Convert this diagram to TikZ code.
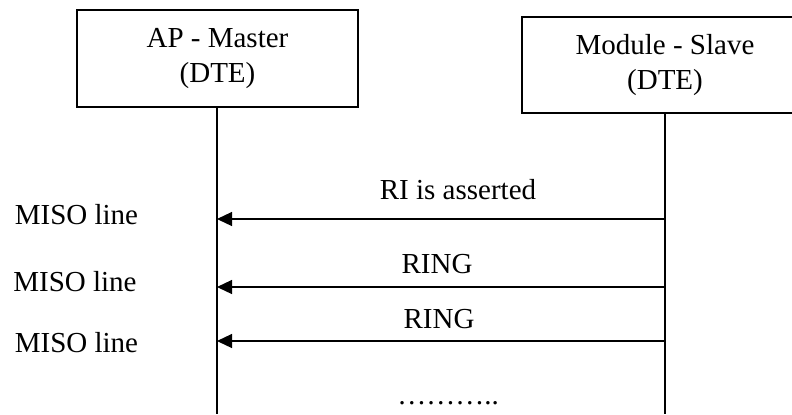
\documentclass[tikz,border=0pt]{standalone}
\usepackage{fontspec}
\setmainfont{Liberation Serif}
\usetikzlibrary{arrows.meta, positioning}

\begin{document}
\begin{tikzpicture}[x=0.5pt, y=-0.5pt,
  lifebox/.style={draw, line width=0.6pt, minimum width=140.5pt, minimum height=48.5pt, align=center, font=\fontsize{14.5}{17.25}\selectfont, inner sep=0pt},
  lifeline/.style={line width=0.6pt},
  msg/.style={line width=0.6pt, -{Triangle[length=7.5pt, width=7pt]}},
  lbl/.style={font=\fontsize{14.5}{17.25}\selectfont, anchor=base, inner sep=0pt}
]
  \clip (0,0) rectangle (792,414);

  % Participants
  \node[lifebox] (master) at (217.5,58.5) {AP - Master\\(DTE)};
  \node[lifebox, minimum width=143pt, minimum height=48pt] (slave) at (665,65) {Module - Slave\\(DTE)};

  % Lifelines
  \coordinate (mEnd) at (217,414);
  \coordinate (sEnd) at (665,414);
  \draw[lifeline] (master.south -| mEnd) -- (mEnd);
  \draw[lifeline] (slave.south -| sEnd) -- (sEnd);

  % Messages
  \coordinate (s1) at (665,219);
  \coordinate (m1) at (217,219);
  \coordinate (s2) at (665,287);
  \coordinate (m2) at (217,287);
  \coordinate (s3) at (665,341);
  \coordinate (m3) at (217,341);
  \draw[msg] (s1) -- (m1);
  \draw[msg] (s2) -- (m2);
  \draw[msg] (s3) -- (m3);

  \node[lbl] (ri) at (458,199) {RI is asserted};
  \node[lbl] (ring1) at (437,273) {RING};
  \node[lbl] (ring2) at (439,328) {RING};
  \node[lbl] (more) at (448,404) {………..};

  % Line names
  \node[lbl] (miso1) at (76.5,224) {MISO line};
  \node[lbl] (miso2) at (75,291) {MISO line};
  \node[lbl] (miso3) at (76.5,352) {MISO line};
\end{tikzpicture}
\end{document}
